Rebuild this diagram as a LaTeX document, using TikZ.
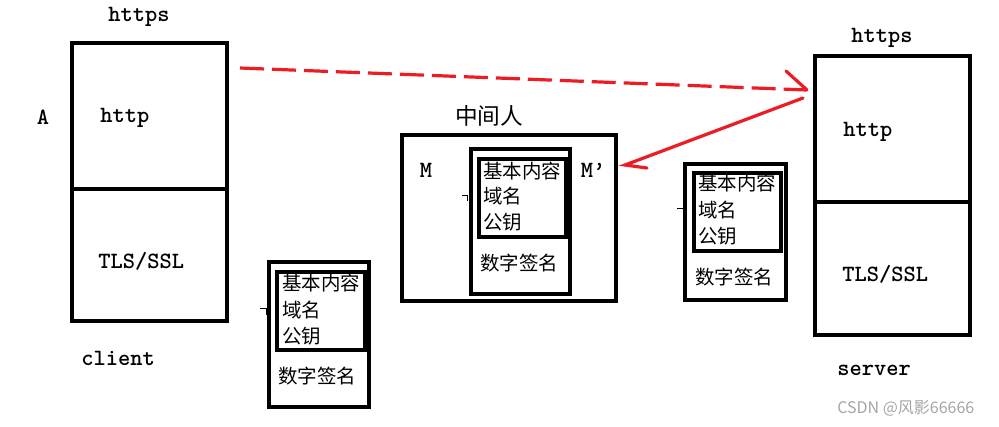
\documentclass[tikz,border=0pt]{standalone}
\usepackage{fontspec}
\newfontfamily\cjk{Noto Sans CJK SC}
\usetikzlibrary{fit}
\definecolor{pred}{RGB}{237,28,36}
\definecolor{wm}{RGB}{165,165,165}
\tikzset{
  box/.style={draw=black, line width=3pt, inner sep=0pt},
  lat/.style={inner sep=0pt, font=\ttfamily\bfseries\fontsize{17.5pt}{18pt}\selectfont},
  cn/.style={inner sep=0pt, font=\cjk\fontsize{14.6pt}{15pt}\selectfont},
  cnbig/.style={inner sep=0pt, font=\cjk\fontsize{17pt}{18pt}\selectfont},
  redline/.style={draw=pred, line width=2.4pt},
  tick/.style={draw=black, line width=0.75pt}
}
\begin{document}
\begin{tikzpicture}[x=0.75pt,y=-0.75pt]
\useasboundingbox (0,0) rectangle (999,426);
% client
\node[box, fit={(72,43) (227,189)}] (clhttp) {};
\node[box, fit={(72,189) (227,321)}] (cltls) {};
\node[lat] (clhttps) at (139,17) {https};
\node[lat] (la) at (43,117) {A};
\node[lat, anchor=west] (clhttptx) at (100,118) {http};
\node[lat, anchor=west] (cltlstx) at (98,261) {TLS/SSL};
\node[lat, anchor=west] (client) at (81,358) {client};
% server
\node[box, fit={(815,56) (970,202)}] (svhttp) {};
\node[box, fit={(815,202) (970,335)}] (svtls) {};
\node[lat] (svhttps) at (882,38) {https};
\node[lat, anchor=west] (svhttptx) at (843,132) {http};
\node[lat, anchor=west] (svtlstx) at (842,274) {TLS/SSL};
\node[lat, anchor=west] (server) at (837,370) {server};
% man in the middle
\node[box, fit={(402,135) (616,301)}] (mitm) {};
\node[cnbig] (mitmtx) at (489,116) {中间人};
\node[lat] (lm) at (426,170) {M};
\node[lat] (lmp) at (593,170) {M’};
\node[box, fit={(471,149) (570,294)}] (c0) {};
\node[box, fit={(479,159) (566,237)}] (c0in) {};
\node[cn, anchor=west] (c0a) at (483,171) {基本内容};
\node[cn, anchor=west] (c0b) at (483,196) {域名};
\node[cn, anchor=west] (c0c) at (483,222) {公钥};
\node[cn, anchor=west] (c0d) at (480,263) {数字签名};
% certificate 1
\node[box, fit={(269,262) (369,407)}] (c1) {};
\node[box, fit={(277,272) (365,350)}] (c1in) {};
\node[cn, anchor=west] (c1a) at (282,283) {基本内容};
\node[cn, anchor=west] (c1b) at (282,310) {域名};
\node[cn, anchor=west] (c1c) at (282,336) {公钥};
\node[cn, anchor=west] (c1d) at (278,376) {数字签名};
% certificate 2
\node[box, fit={(685,164) (786,300)}] (c2) {};
\node[box, fit={(694,173) (781,251)}] (c2in) {};
\node[cn, anchor=west] (c2a) at (698,183) {基本内容};
\node[cn, anchor=west] (c2b) at (698,210) {域名};
\node[cn, anchor=west] (c2c) at (698,236) {公钥};
\node[cn, anchor=west] (c2d) at (695,277) {数字签名};
% small ticks
\draw[tick] (462,195) -- (467,195) -- (467,201);
\draw[tick] (260,308) -- (266,308) -- (266,315);
\draw[tick] (677,208) -- (683,208) -- (683,215);
% red arrows
\coordinate (d1) at (240,68);
\coordinate (d2) at (807,90);
\coordinate (d3) at (786,71);
\coordinate (s1) at (803,98);
\coordinate (s2) at (625,165);
\coordinate (s3) at (647,168);
\draw[redline, dash pattern=on 18pt off 6pt] (d1) -- (d2);
\draw[redline, line cap=round] (d3) -- (d2);
\draw[redline, line cap=round] (s1) -- (s2) -- (s3);
% watermark
\node[inner sep=0pt, anchor=west, text=wm, font=\cjk\fontsize{12pt}{13pt}\selectfont] (wmk) at (837,408) {CSDN @风影66666};
\end{tikzpicture}
\end{document}
